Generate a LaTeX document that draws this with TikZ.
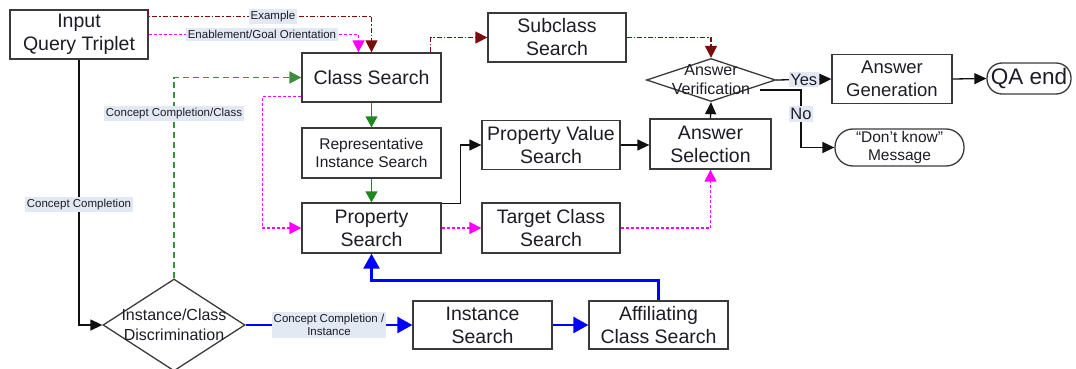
\documentclass[tikz,border=0pt]{standalone}
\usepackage{fontspec}
\setmainfont{Liberation Sans}
\usetikzlibrary{shapes.geometric,arrows.meta,calc}

\definecolor{boxline}{HTML}{3A3A3A}
\definecolor{txt}{HTML}{1C1C26}
\definecolor{exred}{HTML}{7A0C0C}
\definecolor{enmag}{HTML}{FF00FF}
\definecolor{ccgreen}{HTML}{3E8E3E}
\definecolor{flowgreen}{HTML}{1E8A1E}
\definecolor{ccblue}{HTML}{0000FF}
\definecolor{tagbg}{HTML}{E3E9F3}
\definecolor{flowblack}{HTML}{111111}

\begin{document}
\begin{tikzpicture}[x=1pt,y=-1pt,
  every node/.style={text=txt},
  stepbox/.style={draw=boxline,line width=1.3pt,rectangle,inner sep=0pt,align=center,
                  font=\fontsize{19.5}{23}\selectfont},
  endbox/.style={draw=boxline,line width=1.3pt,rectangle,rounded corners=#1,inner sep=0pt,align=center},
  decision/.style={draw=boxline,line width=1.3pt,diamond,inner sep=0pt},
  tag/.style={fill=tagbg,inner xsep=1.5pt,inner ysep=2pt,align=center,
              font=\fontsize{11.5}{13.5}\selectfont},
  answertag/.style={fill=tagbg,inner xsep=1.5pt,inner ysep=2pt,font=\fontsize{16.5}{18}\selectfont},
  blackflow/.style={draw=flowblack,line width=1.3pt,-{Triangle[length=12pt,width=11pt]}},
  greenflow/.style={draw=flowgreen,line width=1.5pt,-{Triangle[length=11pt,width=12pt]}},
  blueflow/.style={draw=ccblue,line width=2.5pt,-{Triangle[length=15pt,width=16pt]}},
  exflow/.style={draw=exred,line width=1.3pt,dash pattern=on 5pt off 2pt on 1.5pt off 2pt,
                 -{Triangle[length=12pt,width=12pt]}},
  enflow/.style={draw=enmag,line width=1.4pt,dash pattern=on 3pt off 2pt,
                 -{Triangle[length=12pt,width=12pt]}},
  ccflow/.style={draw=ccgreen,line width=1.8pt,dash pattern=on 6pt off 4pt,
                 -{Triangle[length=12pt,width=12pt]}},
]
\useasboundingbox (0,0) rectangle (1076,369);

% ---- process boxes ----
\node[stepbox,minimum width=138pt,minimum height=49pt] (inp) at (79,34.5) {Input\\Query Triplet};
\node[stepbox,minimum width=139pt,minimum height=49pt] (cls) at (371.5,77.5) {Class Search};
\node[stepbox,minimum width=138pt,minimum height=49pt] (sub) at (557,37.5) {Subclass\\Search};
\node[stepbox,minimum width=139pt,minimum height=50pt,font=\fontsize{15.5}{18}\selectfont] (rep) at (371.5,153) {Representative\\Instance Search};
\node[stepbox,minimum width=139pt,minimum height=50pt] (prop) at (371.5,228) {Property\\Search};
\node[stepbox,minimum width=138pt,minimum height=49pt] (pvs) at (551,145) {Property Value\\Search};
\node[stepbox,minimum width=138pt,minimum height=50pt] (tcs) at (551,228) {Target Class\\Search};
\node[stepbox,minimum width=121pt,minimum height=50pt] (asel) at (710.5,144) {Answer\\Selection};
\node[stepbox,minimum width=139pt,minimum height=48pt] (isr) at (482.5,325) {Instance\\Search};
\node[stepbox,minimum width=139pt,minimum height=48pt] (aff) at (658.5,325) {Affiliating\\Class Search};
\node[stepbox,minimum width=120pt,minimum height=49pt,font=\fontsize{18.5}{23}\selectfont] (agen) at (892,79) {Answer\\Generation};

% ---- terminals ----
\node[endbox=15pt,minimum width=84pt,minimum height=31pt,font=\fontsize{22.5}{24}\selectfont] (qa) at (1029,78.5) {QA end};
\node[endbox=18pt,minimum width=129pt,minimum height=37pt,font=\fontsize{15.5}{17.5}\selectfont] (dk) at (899.5,147.5) {“Don’t know”\\Message};

% ---- decisions ----
\node[decision,minimum width=129pt,minimum height=43pt,
      label={[name=averText,font=\fontsize{16}{19}\selectfont,align=center]center:Answer\\Verification}] (aver) at (711,80) {};
\node[decision,minimum width=142pt,minimum height=92pt,
      label={[name=icdText,font=\fontsize{16}{20}\selectfont,align=center]center:Instance/Class\\Discrimination}] (icd) at (174,325) {};

% ---- helper points ----
\coordinate (exStart) at ($(inp.north east)+(0,7)$);
\coordinate (enTarget) at ($(cls.north)+(-13,0)$);
\coordinate (subStart) at ($(cls.north east)+(-11,0)$);
\coordinate (magStart) at ($(cls.south west)+(0,-6)$);
\coordinate (magBend) at ($(cls.south west)+(-39,-6)$);
\coordinate (pvStart) at ($(prop.north east)+(0,1)$);
\coordinate (pvBend) at ($(prop.north east)+(19,1)$);
\coordinate (affBend) at ($(prop.south)+(0,27)$);
\coordinate (noStart) at ($(aver.center)+(49,10)$);
\coordinate (noBend) at ($(aver.center)+(90,10)$);

% ---- dashed and dotted relations ----
\draw[exflow] (inp.north east) -- (exStart) -| node[tag,pos=0.279] (tagEx) {Example} (cls.north);
\draw[enflow] (inp.east) -| node[tag,pos=0.27] (tagEn) {Enablement/Goal Orientation} (enTarget);
\draw[exflow] (subStart) |- (sub.west);
\draw[exflow] (sub.east) -| (aver.north);
\draw[ccflow] (icd.north) |- node[tag,pos=0.41] (tagCC) {Concept Completion/Class} (cls.west);
\draw[enflow] (magStart) -- (magBend) |- (prop.west);
\draw[enflow] (prop.east) -- (tcs.west);
\draw[enflow] (tcs.east) -| (asel.south);

% ---- main flow ----
\draw[greenflow] (cls.south) -- (rep.north);
\draw[greenflow] (rep.south) -- (prop.north);
\draw[blackflow] (inp.south) |- node[tag,pos=0.273] (tagC) {Concept Completion} (icd.west);
\draw[blueflow] (icd.east) -- node[tag] (tagCI) {Concept Completion /\\Instance} (isr.west);
\draw[blueflow] (isr.east) -- (aff.west);
\draw[blueflow] (aff.north) |- (affBend) -- (prop.south);
\draw[blackflow] (pvStart) -- (pvBend) |- (pvs.west);
\draw[blackflow] (pvs.east) -- (pvs.east -| asel.west);
\draw[blackflow] (asel.north) -- (aver.south);
\draw[blackflow] (aver.east) -- node[answertag] (tagYes) {Yes} (agen.west);
\draw[blackflow] (noStart) -- (noBend) |- node[answertag,pos=0.21] (tagNo) {No} (dk.west);
\draw[blackflow] (agen.east) -- (qa.west);
\end{tikzpicture}
\end{document}
